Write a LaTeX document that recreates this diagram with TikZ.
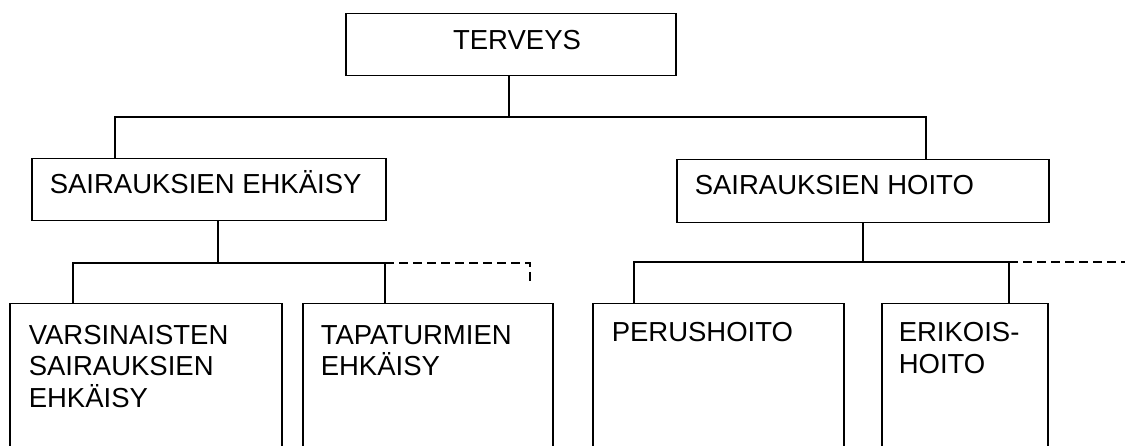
\documentclass[tikz,border=0pt]{standalone}
\usepackage{fontspec}
\setmainfont{Liberation Sans}

\begin{document}
\begin{tikzpicture}[x=1pt, y=-1pt, line width=1.5pt,
        box/.style={draw, rectangle, inner sep=0pt, anchor=north west},
        txt/.style={inner sep=0pt, anchor=base west, align=left, font=\fontsize{27.5}{31.5}\selectfont},
        dashline/.style={line width=1.5pt, dash pattern=on 9pt off 5pt}]
        \useasboundingbox (0,0) rectangle (1125,446);
        \clip (0,0) rectangle (1125,446);
        \node[box, minimum width=330pt, minimum height=62pt] (terveys) at (345,13) {};
        \node[box, minimum width=354pt, minimum height=62pt] (ehk) at (31,158) {};
        \node[box, minimum width=372pt, minimum height=63pt] (hoito) at (676,159) {};
        \node[box, minimum width=272pt, minimum height=160pt] (varsin) at (9,303) {};
        \node[box, minimum width=250pt, minimum height=160pt] (tapat) at (302,303) {};
        \node[box, minimum width=251pt, minimum height=160pt] (perus) at (592,303) {};
        \node[box, minimum width=166pt, minimum height=160pt] (erik) at (881,303) {};
        \node[txt, anchor=base] (tervtxt) at (517,50) {TERVEYS};
        \node[txt] (ehktxt) at (49,194) {SAIRAUKSIEN EHKÄISY};
        \node[txt] (hoitotxt) at (694,195) {SAIRAUKSIEN HOITO};
        \node[txt] (varsintxt) at (28,407) {VARSINAISTEN\\SAIRAUKSIEN\\EHKÄISY};
        \node[txt] (tapattxt) at (320,375.5) {TAPATURMIEN\\EHKÄISY};
        \node[txt] (perustxt) at (611,342) {PERUSHOITO};
        \node[txt] (eriktxt) at (898,373.5) {ERIKOIS-\\HOITO};
        \coordinate (b0l) at (115,117);
        \coordinate (b0r) at (926,117);
        \coordinate (b1l) at (73,263);
        \coordinate (b1m) at (218,263);
        \coordinate (b1r) at (385,263);
        \coordinate (b1x) at (530,263);
        \coordinate (b1y) at (530,282);
        \coordinate (b2l) at (634,262);
        \coordinate (b2m) at (863,262);
        \coordinate (b2r) at (1009,262);
        \coordinate (b2x) at (1125,262);
        \draw (terveys.south -| 509,0) -- (b0l -| 509,0);
        \draw (ehk.north -| b0l) -- (b0l) -- (b0r) -- (hoito.north -| b0r);
        \draw (ehk.south -| b1m) -- (b1m);
        \draw (varsin.north -| b1l) -- (b1l) -- (b1r) -- (tapat.north -| b1r);
        \draw[dashline] (b1r) -- (b1x) -- (b1y);
        \draw (hoito.south -| b2m) -- (b2m);
        \draw (perus.north -| b2l) -- (b2l) -- (b2r) -- (erik.north -| b2r);
        \draw[dashline] (b2r) -- (b2x);
\end{tikzpicture}
\end{document}
